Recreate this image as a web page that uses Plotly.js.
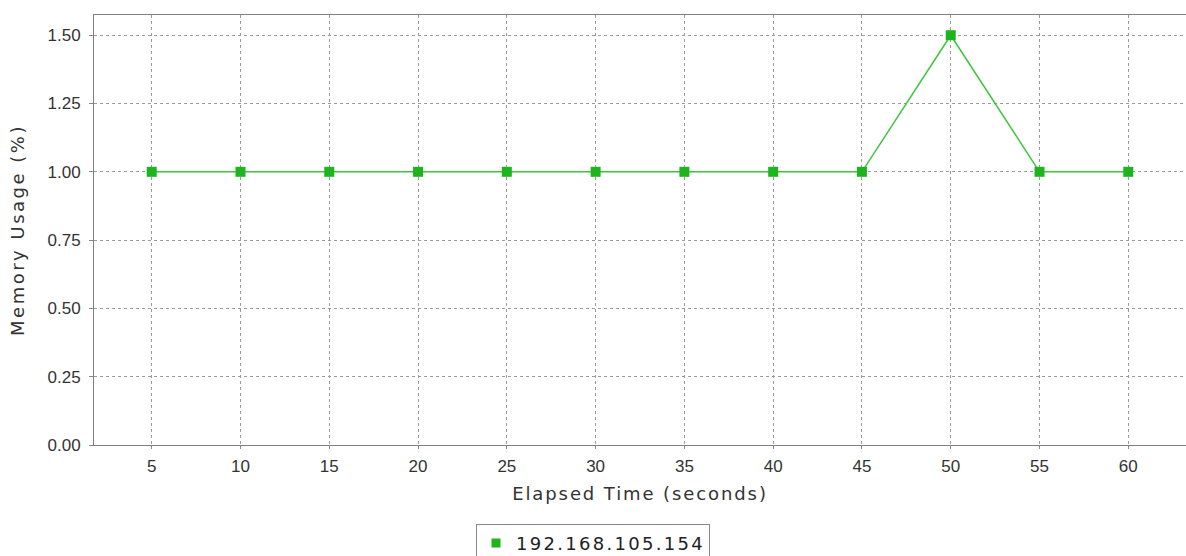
<!DOCTYPE html>
<html>
<head>
<meta charset="utf-8">
<script src="https://cdn.plot.ly/plotly-3.0.1.min.js"></script>
<style>
html,body{margin:0;padding:0;background:#fff;}
#chart{width:1186px;height:556px;}
#chart .xtitle{letter-spacing:1.9px;}
#chart .ytitle{letter-spacing:2.5px;}
#chart .legendtext{letter-spacing:2.3px;}
</style>
</head>
<body>
<div id="chart"></div>
<script>
var elapsedSeconds = [5, 10, 15, 20, 25, 30, 35, 40, 45, 50, 55, 60];
var memoryUsage = [1.00, 1.00, 1.00, 1.00, 1.00, 1.00, 1.00, 1.00, 1.00, 1.50, 1.00, 1.00];
var seriesName = "192.168.105.154";
var yTicks = [0, 0.25, 0.5, 0.75, 1.0, 1.25, 1.5];

var lineColor = '#3fc43f';
var markerColor = '#1db41d';

var trace = {
  x: elapsedSeconds,
  y: memoryUsage,
  name: seriesName,
  type: 'scatter',
  mode: 'lines+markers',
  line: {color: lineColor, width: 1.5},
  marker: {symbol: 'square', size: 10, color: markerColor},
  showlegend: false,
  legendgroup: 'a'
};
// legend entry only (square marker, no line), as in the reference
var legendTrace = {
  x: [null],
  y: [null],
  name: seriesName,
  type: 'scatter',
  mode: 'markers',
  marker: {symbol: 'square', size: 9, color: markerColor},
  showlegend: true,
  legendgroup: 'a',
  hoverinfo: 'skip'
};

var tickFont = {family: 'Liberation Sans, Arial, sans-serif', size: 17, color: '#333333'};
var titleFont = {family: 'DejaVu Sans, sans-serif', size: 18, color: '#333333'};

var layout = {
  width: 1186, height: 556,
  margin: {l: 94, r: 0, t: 15, b: 111, pad: 0},
  paper_bgcolor: '#ffffff',
  plot_bgcolor: '#ffffff',
  font: {family: 'DejaVu Sans, sans-serif', color: '#333333'},
  showlegend: true,
  xaxis: {
    range: [1.75, 63.25],
    tickvals: elapsedSeconds,
    ticktext: elapsedSeconds.map(String),
    ticks: 'outside', ticklen: 3, tickcolor: '#888888',
    ticklabelstandoff: 3,
    tickfont: tickFont,
    showline: true, linecolor: '#808080', linewidth: 1, mirror: true,
    showgrid: true, gridcolor: '#9a9a9a', gridwidth: 1, griddash: '3px,3px',
    zeroline: false,
    automargin: false,
    title: {text: 'Elapsed Time (seconds)', font: titleFont, standoff: 11}
  },
  yaxis: {
    range: [0, 1.574],
    tickvals: yTicks,
    tickformat: '.2f',
    ticks: 'outside', ticklen: 4, tickcolor: '#888888',
    ticklabelstandoff: 5,
    tickfont: tickFont,
    showline: true, linecolor: '#808080', linewidth: 1, mirror: false,
    showgrid: true, gridcolor: '#9a9a9a', gridwidth: 1, griddash: '3px,3px',
    zeroline: false,
    automargin: false,
    title: {text: 'Memory Usage (%)', font: titleFont, standoff: 18}
  },
  legend: {
    orientation: 'h',
    xref: 'container', yref: 'container',
    x: 0.5, xanchor: 'center',
    y: 0.058, yanchor: 'top',
    bordercolor: '#888888', borderwidth: 1,
    bgcolor: '#ffffff',
    font: {family: 'DejaVu Sans, sans-serif', size: 18, color: '#222222'},
    itemwidth: 30,
    entrywidth: 188,
    entrywidthmode: 'pixels',
    tracegroupgap: 0
  }
};

Plotly.newPlot('chart', [trace, legendTrace], layout, {displayModeBar: false, staticPlot: true});
</script>
</body>
</html>
